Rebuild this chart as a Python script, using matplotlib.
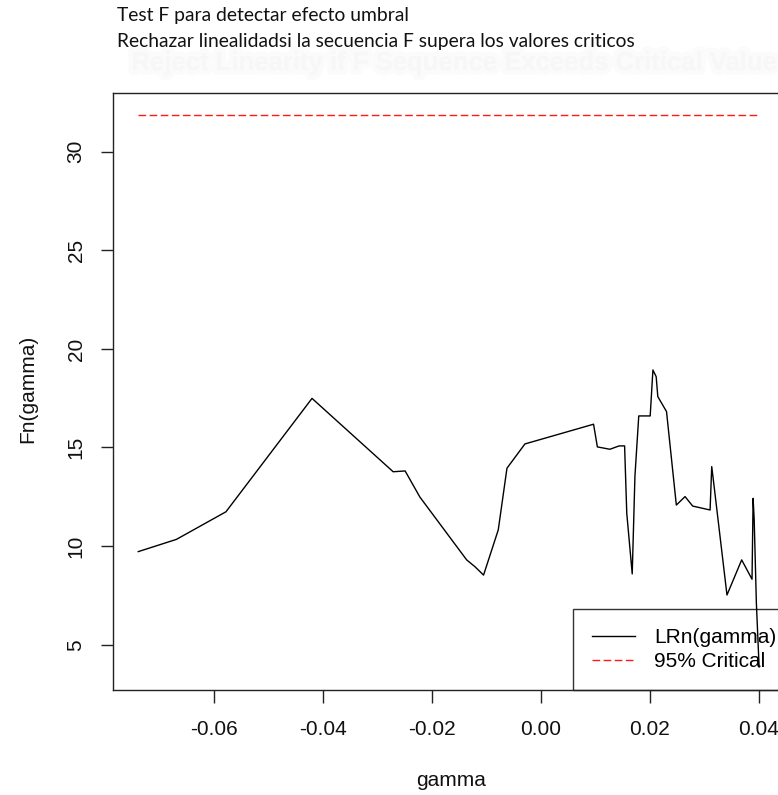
import numpy as np
import matplotlib
matplotlib.use("Agg")
import matplotlib.pyplot as plt
import matplotlib.patheffects as pe

# threshold grid and F sequence
gamma = [-0.0739, -0.0669, -0.0578, -0.0420, -0.0271, -0.0249, -0.0222, -0.0136,
         -0.0121, -0.0105, -0.0078, -0.0062, -0.0029, 0.0097, 0.0104, 0.0127,
         0.0144, 0.0154, 0.0158, 0.0168, 0.0173, 0.0180, 0.0201, 0.0206,
         0.0212, 0.0215, 0.0231, 0.0249, 0.0265, 0.0279, 0.0311, 0.0314,
         0.0317, 0.0342, 0.0369, 0.0388, 0.0390, 0.0392, 0.0396, 0.0401]
fn = [9.72, 10.34, 11.74, 17.49, 13.77, 13.81, 12.49, 9.30,
      8.96, 8.53, 10.82, 13.95, 15.18, 16.18, 15.03, 14.91,
      15.08, 15.08, 11.66, 8.59, 13.55, 16.60, 16.60, 18.93,
      18.59, 17.58, 16.82, 12.08, 12.51, 12.03, 11.83, 14.03,
      13.35, 7.52, 9.30, 8.32, 12.42, 11.32, 7.10, 3.87]
crit95 = 31.88

x_ticks = [-0.06, -0.04, -0.02, 0.00, 0.02, 0.04]
y_ticks = [5, 10, 15, 20, 25, 30]

plt.rcParams['font.family'] = ['Liberation Sans', 'DejaVu Sans']
plt.rcParams['axes.unicode_minus'] = False

fig = plt.figure(figsize=(7.78, 7.95), dpi=100)
W, H = 778, 795
# plot region runs a bit past the right border of the saved image
ax = fig.add_axes([113.3 / W, 1 - 689.7 / H, (789 - 113.3) / W, (689.7 - 93.3) / H])

ax.plot(gamma, fn, color='black', lw=1.0, label='LRn(gamma)', zorder=3)
ax.plot([gamma[0], gamma[-1]], [crit95, crit95], color='#ff1a1a', lw=1.0,
        dashes=(5.5, 2.5), label='95% Critical', zorder=3)

ax.set_xlim(-0.07849, 0.04559)
ax.set_ylim(2.718, 32.96)
ax.set_xticks(x_ticks)
ax.set_xticklabels([f"{v:.2f}" for v in x_ticks])
ax.set_yticks(y_ticks)
ax.set_yticklabels([str(v) for v in y_ticks])
ax.tick_params(direction='out', length=9, width=1, color='#222222',
               labelsize=15, labelcolor='#111111')
ax.tick_params(axis='x', pad=13)
ax.tick_params(axis='y', pad=11)
for lbl in ax.get_yticklabels():
    lbl.set_rotation(90)
    lbl.set_va('center')
for sp in ax.spines.values():
    sp.set_color('#222222')
    sp.set_linewidth(1.0)

ax.set_xlabel('gamma', fontsize=15, color='#111111', labelpad=23)
fig.text(28 / W, 1 - 389 / H, 'Fn(gamma)', rotation=90, fontsize=15,
         color='#111111', ha='center', va='center')

# legend box has no fill, the curve shows through it
leg = ax.legend(loc='lower right', bbox_to_anchor=(1.0089, 0), borderaxespad=0,
                fontsize=15, frameon=True, fancybox=False, facecolor='none',
                edgecolor='black', handlelength=2.1, handletextpad=0.91,
                borderpad=0.89, labelspacing=0.25)
leg.get_frame().set_linewidth(1.0)
leg.set_zorder(2)

# faded original heading behind the Spanish notes
fig.text(455 / W, 1 - 63 / H, 'Reject Linearity if F Sequence Exceeds Critical Value',
         fontsize=18.5, fontweight='bold', color='#f7f7f7', ha='center', va='center',
         path_effects=[pe.withStroke(linewidth=7, foreground='#fbfbfb'), pe.Normal()])

note_font = ['Lato', 'DejaVu Sans']
fig.text(117 / W, 1 - 16 / H, 'Test F para detectar efecto umbral',
         fontsize=13.9, family=note_font, color='#111111', ha='left', va='center')
fig.text(117 / W, 1 - 41 / H, 'Rechazar linealidadsi la secuencia F supera los valores criticos',
         fontsize=13.9, family=note_font, color='#111111', ha='left', va='center')

fig.savefig('out.png', dpi=100)
